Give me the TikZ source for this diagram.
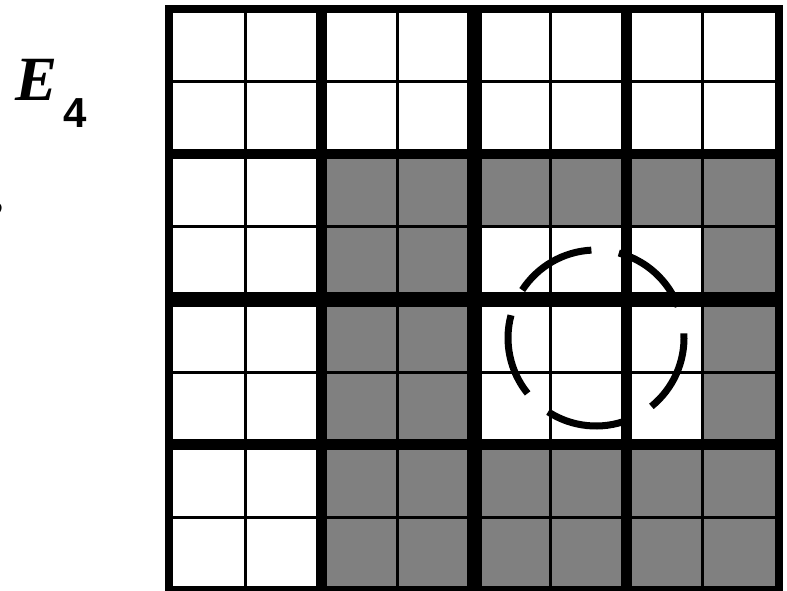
\documentclass[tikz,border=0pt]{standalone}
\usepackage{fontspec}
\setmainfont{Liberation Serif}
\newfontfamily\labsans{Liberation Sans}
\definecolor{cellgray}{HTML}{808080}
\begin{document}
\begin{tikzpicture}[x=1pt,y=-1pt,
  thinline/.style={line width=3pt,line cap=butt},
  thickline/.style={line width=10.5pt,line cap=butt},
  midline/.style={line width=15pt,line cap=butt},
  outerline/.style={line width=7.7pt},
  circarc/.style={line width=7pt,line cap=butt}]
\useasboundingbox (0,0) rectangle (787,590);
\def\xo{169}\def\yo{9}\def\cw{76.25}\def\ch{72.6}
% shading
\fill[cellgray] ({\xo+2*\cw},{\yo+2*\ch}) rectangle ({\xo+8*\cw},{\yo+8*\ch});
\fill[white] ({\xo+4*\cw},{\yo+3*\ch}) rectangle ({\xo+7*\cw},{\yo+6*\ch});
% thin lines
\foreach \i in {1,3,5,7}{
  \draw[thinline] ({\xo+\i*\cw},\yo) -- ({\xo+\i*\cw},{\yo+8*\ch});
  \draw[thinline] (\xo,{\yo+\i*\ch}) -- ({\xo+8*\cw},{\yo+\i*\ch});
}
% thick lines
\foreach \i in {2,6}{
  \draw[thickline] ({\xo+\i*\cw},\yo) -- ({\xo+\i*\cw},{\yo+8*\ch});
  \draw[thickline] (\xo,{\yo+\i*\ch}) -- ({\xo+8*\cw},{\yo+\i*\ch});
}
\draw[midline] ({\xo+4*\cw},\yo) -- ({\xo+4*\cw},{\yo+8*\ch});
\draw[midline] (\xo,{\yo+4*\ch}) -- ({\xo+8*\cw},{\yo+4*\ch});
\draw[outerline] (\xo,\yo) rectangle ({\xo+8*\cw},{\yo+8*\ch});
% dashed circle
\coordinate (cc) at (596,338);
\foreach \s in {-51,21,93,165,237}{
  \draw[circarc] ([shift={(-\s:88)}]cc) arc[start angle=-\s, end angle={-\s-54}, radius=88];
}
% labels
\node[anchor=base west,inner sep=0pt] (E) at (15,100) {\fontsize{63}{63}\selectfont\bfseries\itshape E};
\node[anchor=base west,inner sep=0pt] (four) at (63,127) {\fontsize{42}{42}\selectfont\labsans\bfseries 4};
\node[anchor=base east,inner sep=0pt] (frag) at (4,231) {\fontsize{63}{63}\selectfont\bfseries\itshape e};
\end{tikzpicture}
\end{document}
